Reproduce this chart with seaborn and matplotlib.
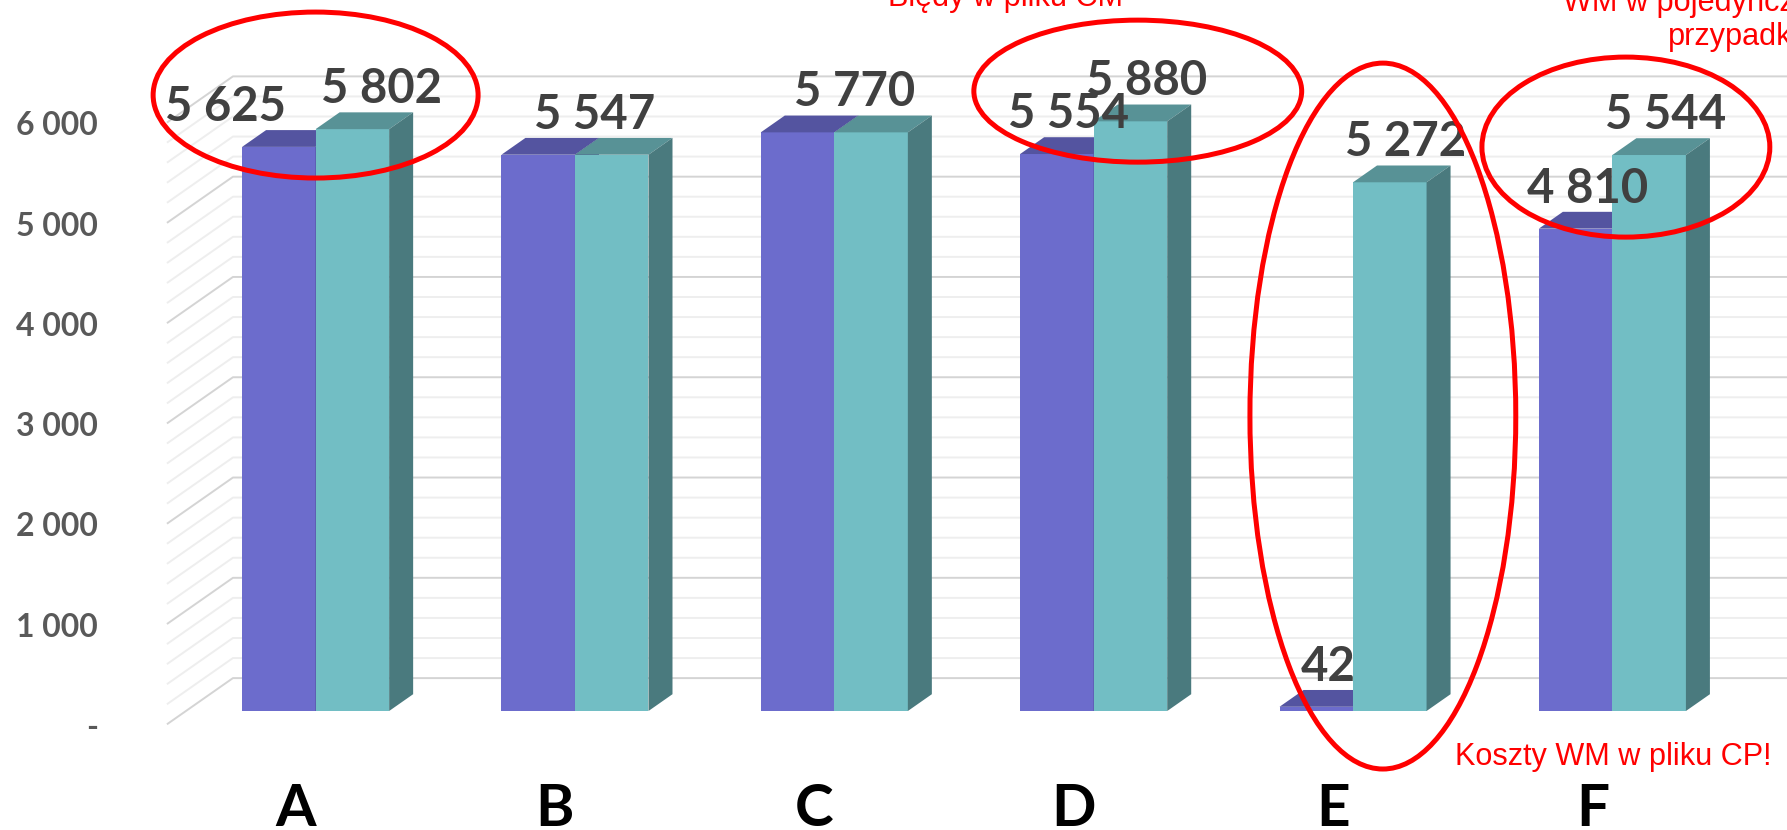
import numpy as np
import pandas as pd
import matplotlib
matplotlib.use("Agg")
import matplotlib.pyplot as plt
import matplotlib.transforms as mtransforms
from matplotlib.patches import Polygon, Ellipse
import seaborn as sns

# data
categories = ["A", "B", "C", "D", "E", "F"]
series_names = ["Seria 1", "Seria 2"]
purple_values = [5625, 5547, 5770, 5554, 42, 4810]
teal_values = [5802, 5547, 5770, 5880, 5272, 5544]
y_ticks = [0, 1000, 2000, 3000, 4000, 5000, 6000]
y_tick_labels = ["-", "1 000", "2 000", "3 000", "4 000", "5 000", "6 000"]

# colours (front, top, side) per series
faces = {
    "Seria 1": ("#6C6CCC", "#5454A0", "#4A4A8C"),
    "Seria 2": ("#72BEC4", "#589296", "#4A7A7E"),
}

df = pd.DataFrame({
    "kategoria": categories * 2,
    "wartosc": purple_values + teal_values,
    "seria": [series_names[0]] * len(categories) + [series_names[1]] * len(categories),
})

W, H = 1787, 830
fig = plt.figure(figsize=(W / 100, H / 100), dpi=100)
ax = fig.add_axes([160 / W, 119 / H, 1608 / W, 702 / H])

sns.barplot(data=df, x="kategoria", y="wartosc", hue="seria",
            palette=[faces[s][0] for s in series_names], width=0.567,
            saturation=1, edgecolor="none", linewidth=0, legend=False, ax=ax)

ax.set_xlim(-0.6, 5.6)
ax.set_ylim(0, 7000)
for s in ax.spines.values():
    s.set_visible(False)
ax.set_xlabel("")
ax.set_ylabel("")

# pixel scale of the data axes (oblique 3D projection helpers)
p0 = ax.transData.transform((0, 0))
p1 = ax.transData.transform((1, 1))
ppx, ppy = p1[0] - p0[0], p1[1] - p0[1]


def depth(px):
    return px / ppx, 0.7 * px / ppy


# walls: left wall diagonals + back wall horizontal lines
fdx, fdy = depth(-19)
bdx, bdy = depth(47)
for v in range(0, 6001, 200):
    major = v % 1000 == 0
    col = "#D4D4D4" if major else "#EEEEEE"
    ax.plot([-0.5 + fdx, -0.5 + bdx, 7], [v + fdy, v + bdy, v + bdy],
            color=col, lw=1.4, zorder=0, clip_on=False, solid_capstyle="butt")

# 3D top and side faces for each bar
ddx, ddy = depth(24)
for k, (cont, name) in enumerate(zip(ax.containers, series_names)):
    front, top, side = faces[name]
    for bar in cont:
        bar.set_zorder(2 + k)
        x0, w, h = bar.get_x(), bar.get_width(), bar.get_height()
        ax.add_patch(Polygon([(x0, h), (x0 + w, h), (x0 + w + ddx, h + ddy), (x0 + ddx, h + ddy)],
                             closed=True, fc=top, ec="none", zorder=2 + k))
        ax.add_patch(Polygon([(x0 + w, 0), (x0 + w, h), (x0 + w + ddx, h + ddy), (x0 + w + ddx, ddy)],
                             closed=True, fc=side, ec="none", zorder=2 + k))

# data labels
lab_kw = dict(textcoords="offset points", ha="center", va="baseline",
              fontsize=34, fontweight="bold", color="#404040", family="Lato",
              zorder=6, annotation_clip=False)
px2pt = 0.72
for i in range(len(categories)):
    bp, bt = ax.containers[0][i], ax.containers[1][i]
    vp, vt = purple_values[i], teal_values[i]
    cp = bp.get_x() + bp.get_width() / 2
    ct = bt.get_x() + bt.get_width() / 2
    if vp == vt:
        ax.annotate(f"{vt:,}".replace(",", " "), (bt.get_x(), vt),
                    xytext=(20 * px2pt, 26 * px2pt), **lab_kw)
        continue
    shift_p, shift_t = 12, 16
    if abs(vp - vt) < 300:
        shift_p, shift_t = -53, 29
    ax.annotate(f"{vp:,}".replace(",", " "), (cp, vp),
                xytext=(shift_p * px2pt, 26 * px2pt), **lab_kw)
    ax.annotate(f"{vt:,}".replace(",", " "), (ct, vt),
                xytext=(shift_t * px2pt, 26 * px2pt), **lab_kw)

# axis labels on the front plane
ax.set_yticks(y_ticks, y_tick_labels)
ax.tick_params(axis="y", length=0, pad=44.6, labelsize=23, labelcolor="#595959")
ax.tick_params(axis="x", length=0, pad=52, labelsize=42, labelcolor="black")
for lab in ax.get_yticklabels():
    lab.set_fontweight("bold")
    lab.set_family("Lato")
    lab.set_transform(lab.get_transform() + mtransforms.ScaledTranslation(0, -0.14, fig.dpi_scale_trans))
for lab in ax.get_xticklabels():
    lab.set_fontweight("bold")
    lab.set_family("Lato")
    lab.set_transform(lab.get_transform() + mtransforms.ScaledTranslation(-0.20, 0, fig.dpi_scale_trans))
ax.grid(False)

# red highlight ellipses (centre x, centre y, width, height in data units)
highlights = [(0.0, 6142, 1.253, 1655), (3.17, 6181, 1.264, 1416),
              (4.115, 2941, 1.025, 7039), (5.052, 5623, 1.110, 1795)]
for cx, cy, ew, eh in highlights:
    ax.add_patch(Ellipse((cx, cy), ew, eh, fill=False, ec="#FF0000", lw=3.6,
                         zorder=8, clip_on=False))

# red comments
note_kw = dict(color="#FF0000", fontsize=22.1, family="Liberation Sans", va="baseline")
fig.text(1006 / W, 1 - 6 / H, "Błędy w pliku CM", ha="center", **note_kw)
fig.text(1842 / W, 1 - 11 / H, "WM w pojedynczych", ha="right", **note_kw)
fig.text(1842 / W, 1 - 45 / H, "przypadkach", ha="right", **note_kw)
fig.text(1455 / W, 1 - 765 / H, "Koszty WM w pliku CP!", ha="left", **note_kw)

fig.savefig("out.png", dpi=100)
